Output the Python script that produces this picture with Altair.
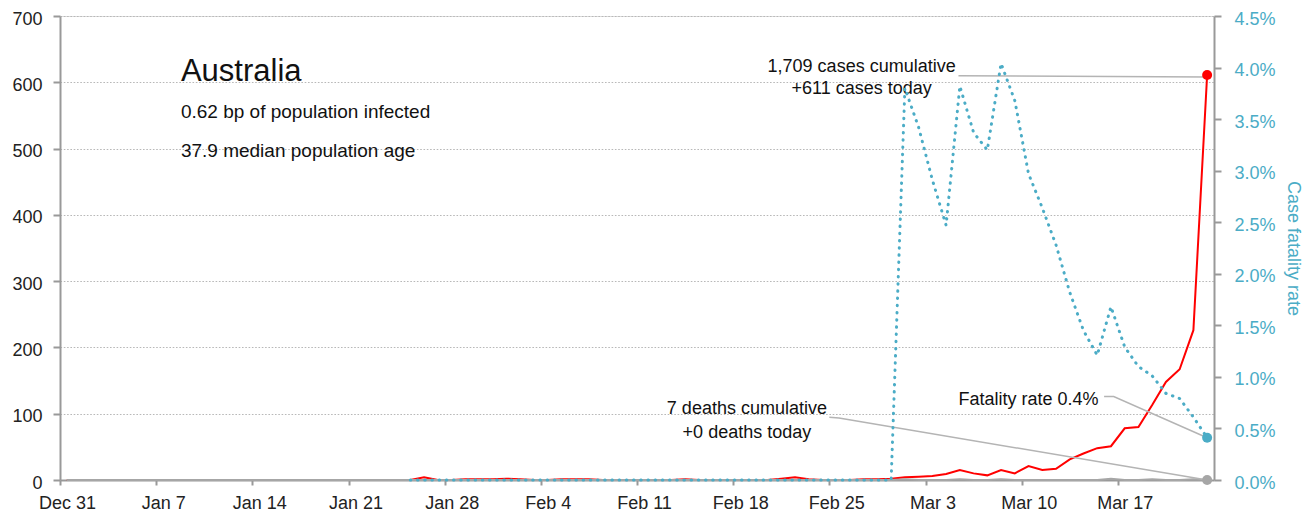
import json
import pandas as pd
import altair as alt

FONT = "Liberation Sans"
RED = "#ff0000"
BLUE = "#4bacc6"
GREY = "#a6a6a6"
LEADER = "#b4b4b4"

# x tick labels (weekly), tick every 7 days from Dec 31
tick_labels = ["Dec 31", "Jan 7", "Jan 14", "Jan 21", "Jan 28", "Feb 4", "Feb 11",
               "Feb 18", "Feb 25", "Mar 3", "Mar 10", "Mar 17"]

# daily series, Dec 31 .. Mar 23 (84 days)
new_cases = [0, 0, 0, 0, 0, 0, 0, 0, 0, 0,
             0, 0, 0, 0, 0, 0, 0, 0, 0, 0,
             0, 0, 0, 0, 0, 0, 4, 0, 0, 1,
             1, 1, 2, 1, 0, 0, 1, 1, 1, 0,
             0, 0, 0, 0, 0, 1, 0, 0, 0, 0,
             0, 0, 2, 4, 1, 0, 0, 0, 1, 1,
             2, 4, 5, 6, 9, 15, 10, 7, 15, 10,
             21, 15, 17, 31, 40, 48, 51, 78, 80, 113,
             148, 167, 226, 611]
new_deaths = [0, 0, 0, 0, 0, 0, 0, 0, 0, 0,
              0, 0, 0, 0, 0, 0, 0, 0, 0, 0,
              0, 0, 0, 0, 0, 0, 0, 0, 0, 0,
              0, 0, 0, 0, 0, 0, 0, 0, 0, 0,
              0, 0, 0, 0, 0, 0, 0, 0, 0, 0,
              0, 0, 0, 0, 0, 0, 0, 0, 0, 0,
              0, 1, 0, 0, 0, 1, 0, 0, 1, 0,
              0, 0, 0, 0, 0, 0, 2, 0, 0, 1,
              0, 0, 1, 0]
# case fatality rate in percent (None before first case)
cfr_pct = [None, None, None, None, None, None, None, None, None, None,
           None, None, None, None, None, None, None, None, None, None,
           None, None, None, None, None, 0, 0, 0, 0, 0,
           0, 0, 0, 0, 0, 0, 0, 0, 0, 0,
           0, 0, 0, 0, 0, 0, 0, 0, 0, 0,
           0, 0, 0, 0, 0, 0, 0, 0, 0, 0,
           0, 3.80, 3.42, 2.91, 2.47, 3.82, 3.37, 3.20, 4.04, 3.68,
           2.97, 2.64, 2.28, 1.82, 1.45, 1.21, 1.68, 1.29, 1.10, 1.01,
           0.84, 0.79, 0.61, 0.41]

# annotation texts (left scale units: day, cases)
left_texts = ["Australia", "0.62 bp of population infected", "37.9 median population age"]
left_text_t = [8.8, 8.8, 8.8]
left_text_v = [602, 546, 488]
left_text_size = [31, 19, 19]

center_texts = ["1,709 cases cumulative", "+611 cases today", "7 deaths cumulative", "+0 deaths today"]
center_text_t = [58.35, 58.35, 50.0, 50.0]
center_text_v = [616, 582, 99, 64]

right_texts = ["Fatality rate 0.4%"]
right_text_t = [75.6]
right_text_v = [113]

# leader lines
leader_left_g = [0, 0, 1, 1, 1]
leader_left_t = [65.4, 83.5, 56.0, 56.7, 83.5]
leader_left_v = [610, 608, 94.6, 93.5, 0]
leader_right_t = [76.0, 76.7, 83.5]
leader_right_v = [0.0081, 0.0081, 0.0041]

n = len(new_cases)
df = pd.DataFrame({
    "t": [i + 0.5 for i in range(n)],
    "cases": new_cases,
    "deaths": new_deaths,
    "cfr": [None if v is None else v / 100 for v in cfr_pct],
})
last = df.iloc[[-1]].copy()

x_axis = alt.Axis(
    values=list(range(0, 78, 7)),
    labelExpr=json.dumps(tick_labels) + "[round(datum.value / 7)]",
    title=None, grid=False, domainColor="#999999", domainWidth=2,
    tickColor="#999999", tickWidth=2, tickSize=5,
    labelFont=FONT, labelFontSize=18, labelColor="#222222",
    labelBaseline="alphabetic", labelPadding=23, labelOffset=7,
    labelFlush=False, labelOverlap=False,
)
x_enc = alt.X("t:Q", scale=alt.Scale(domain=[0, 84], nice=False, zero=False), axis=x_axis)

left_scale = alt.Scale(domain=[0, 700], nice=False, zero=True)
right_scale = alt.Scale(domain=[0, 0.045], nice=False, zero=True)

left_axis = alt.Axis(
    orient="left", values=list(range(0, 701, 100)), title=None,
    grid=True, gridColor="#b8b8b8", gridDash=[1.6, 1.7], gridWidth=1,
    domainColor="#999999", domainWidth=2, tickColor="#999999", tickWidth=2, tickSize=7,
    labelFont=FONT, labelFontSize=18, labelColor="#222222", labelPadding=11,
    labelOffset=3,
)
right_axis = alt.Axis(
    orient="right", values=[0, 0.005, 0.01, 0.015, 0.02, 0.025, 0.03, 0.035, 0.04, 0.045],
    format=".1%", grid=False,
    title="Case fatality rate", titleColor=BLUE, titleFont=FONT, titleFontSize=18,
    titleFontWeight="normal", titleAngle=90, titleX=78, titleY=232,
    titleAlign="center", titleBaseline="middle",
    domainColor="#999999", domainWidth=2, tickColor="#999999", tickWidth=2, tickSize=7,
    labelFont=FONT, labelFontSize=18, labelColor=BLUE, labelPadding=13,
    labelOffset=3,
)


def yl(field):
    return alt.Y(field, scale=left_scale, axis=left_axis)


def yr(field):
    return alt.Y(field, scale=right_scale, axis=right_axis)


base = alt.Chart(df)

red_line = base.mark_line(color=RED, strokeWidth=2).encode(x=x_enc, y=yl("cases:Q"))
grey_line = base.mark_line(color=GREY, strokeWidth=2).encode(x=x_enc, y=yl("deaths:Q"))

leader_left = alt.Chart(pd.DataFrame({
    "g": leader_left_g, "t": leader_left_t, "cases": leader_left_v,
    "o": list(range(len(leader_left_t)))})).mark_line(color=LEADER, strokeWidth=1.5).encode(
    x=x_enc, y=yl("cases:Q"), detail="g:N", order="o:Q")

red_dot = alt.Chart(last).mark_circle(color=RED, size=100, opacity=1).encode(
    x=x_enc, y=yl("cases:Q"))
grey_dot = alt.Chart(last).mark_circle(color=GREY, size=100, opacity=1).encode(
    x=x_enc, y=yl("deaths:Q"))

txt_left = alt.Chart(pd.DataFrame({
    "text": left_texts, "t": left_text_t, "cases": left_text_v, "s": left_text_size})).mark_text(
    align="left", baseline="alphabetic", font=FONT, color="#111111").encode(
    x=x_enc, y=yl("cases:Q"), text="text:N",
    size=alt.Size("s:Q", scale=None, legend=None))
txt_center = alt.Chart(pd.DataFrame({
    "text": center_texts, "t": center_text_t, "cases": center_text_v})).mark_text(
    align="center", baseline="alphabetic", font=FONT, fontSize=18, color="#111111").encode(
    x=x_enc, y=yl("cases:Q"), text="text:N")
txt_right = alt.Chart(pd.DataFrame({
    "text": right_texts, "t": right_text_t, "cases": right_text_v})).mark_text(
    align="right", baseline="alphabetic", font=FONT, fontSize=18, color="#111111").encode(
    x=x_enc, y=yl("cases:Q"), text="text:N")

left = alt.layer(red_line, grey_line, leader_left, txt_left, txt_center, txt_right, red_dot, grey_dot)

cfr_line = base.transform_filter("isValid(datum.cfr)").mark_line(
    color=BLUE, strokeWidth=3, strokeDash=[0.5, 6.7], strokeCap="round").encode(
    x=x_enc, y=yr("cfr:Q"))
leader_right = alt.Chart(pd.DataFrame({
    "t": leader_right_t, "cfr": leader_right_v, "o": list(range(len(leader_right_t)))})).mark_line(
    color=LEADER, strokeWidth=1.5).encode(
    x=x_enc, y=yr("cfr:Q"), order="o:Q")
blue_dot = alt.Chart(last).mark_circle(color=BLUE, size=100, opacity=1).encode(
    x=x_enc, y=yr("cfr:Q"))

right = alt.layer(cfr_line, leader_right, blue_dot)

chart = alt.layer(left, right).resolve_scale(y="independent").properties(
    width=1154, height=464,
    padding={"left": 52, "top": 8, "right": 94, "bottom": 31},
    autosize=alt.AutoSizeParams(type="none"),
).configure_view(stroke=None).configure(font=FONT)

chart.save("out.html", embed_options={"renderer": "svg", "actions": False})
